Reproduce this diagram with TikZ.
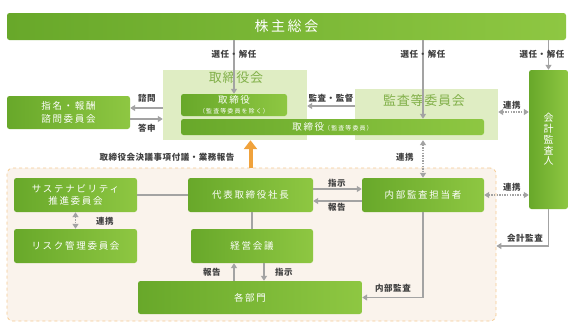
\documentclass[tikz,border=0pt]{standalone}
\usepackage{fontspec}
\setmainfont{Noto Sans CJK JP}
\newfontfamily\boxf[LetterSpace=18]{Noto Sans CJK JP}
\newfontfamily\labf[LetterSpace=6]{Noto Sans CJK JP}
\newfontfamily\titf[LetterSpace=6]{Noto Sans CJK JP}
\usetikzlibrary{arrows.meta}
\definecolor{gL}{HTML}{68A82A}
\definecolor{gR}{HTML}{8EC742}
\definecolor{panel}{HTML}{DFEDC3}
\definecolor{ptext}{HTML}{82B04A}
\definecolor{beige}{HTML}{FAF3EC}
\definecolor{beigeline}{HTML}{F6CB92}
\definecolor{arrgray}{HTML}{A3A3A3}
\definecolor{labtext}{HTML}{404040}
\definecolor{orng}{HTML}{F0A23C}
\begin{document}
\begin{tikzpicture}[x=1pt,y=-1pt,
  gbox/.style={rounded corners=2.5pt, left color=gL, right color=gR, draw=none,
    text=white, font=\boxf\fontsize{9.5}{13}\selectfont, align=center, inner sep=0pt},
  pbox/.style={fill=panel, draw=none, inner sep=0pt},
  ptitle/.style={text=ptext, font=\titf\fontsize{13}{14}\selectfont, inner sep=0pt},
  lab/.style={text=labtext, font=\labf\bfseries\fontsize{8.5}{10}\selectfont, inner sep=0pt},
  arr/.style={draw=arrgray, line width=1.3pt, -{Triangle[length=5pt,width=6pt]}},
  plain/.style={draw=arrgray, line width=1.3pt},
  dotarr/.style={draw=arrgray, line width=1.3pt, dash pattern=on 1.3pt off 1.3pt,
    {Triangle[length=5pt,width=6pt]}-{Triangle[length=5pt,width=6pt]}}
]
\useasboundingbox (0,0) rectangle (579,335);
\fill[white] (0,0) rectangle (579,335);

% background panels
\node[pbox, minimum width=144pt, minimum height=70pt] (torpanel) at (235,105) {};
\node[pbox, minimum width=143pt, minimum height=51pt] (kansapanel) at (426.5,114.5) {};
\node[ptitle] (tortitle) at (236,78) {取締役会};
\node[ptitle] (kansatitle) at (424,101) {監査等委員会};
\node[rounded corners=6pt, fill=beige, draw=beigeline, dashed, line width=0.8pt,
  minimum width=489pt, minimum height=153pt, inner sep=0pt] (beigebox) at (251.5,244.5) {};

% boxes
\node[gbox, minimum width=559pt, minimum height=27pt, font=\boxf\fontsize{14}{16}\selectfont] (kabu) at (286.5,26.5) {株主総会};
\node[gbox, minimum width=106pt, minimum height=22pt, font=\boxf\fontsize{9.5}{9.5}\selectfont] (tor1) at (234,105) {取締役\\{\fontsize{6}{7}\selectfont （監査等委員を除く）}};
\node[gbox, minimum width=303pt, minimum height=16pt] (tor2) at (332.5,127) {取締役{\fontsize{6}{7}\selectfont （監査等委員）}};
\node[gbox, minimum width=123pt, minimum height=33pt, font=\boxf\fontsize{9.5}{12.5}\selectfont] (shimei) at (68.5,112.5) {指名・報酬\\諮問委員会};
\node[gbox, minimum width=39pt, minimum height=139pt, font=\boxf\fontsize{10}{10.8}\selectfont] (kaikei) at (548.5,139.5) {会\\計\\監\\査\\人};
\node[gbox, minimum width=123pt, minimum height=34pt, font=\boxf\fontsize{9.5}{12.5}\selectfont] (sust) at (75.5,195) {サステナビリティ\\推進委員会};
\node[gbox, minimum width=123pt, minimum height=34pt] (risk) at (75.5,246) {リスク管理委員会};
\node[gbox, minimum width=125pt, minimum height=34pt] (daihyo) at (250.5,195) {代表取締役社長};
\node[gbox, minimum width=122pt, minimum height=34pt] (keiei) at (252,246) {経営会議};
\node[gbox, minimum width=224pt, minimum height=33pt] (kakubu) at (250,297.5) {各部門};
\node[gbox, minimum width=122pt, minimum height=34pt] (naibu) at (423,195) {内部監査担当者};

% connectors from 株主総会
\draw[arr] (kabu.south -| tor1.north) -- (tor1.north);
\draw[arr] (kabu.south -| naibu.north) -- (naibu.north |- tor2.north);
\draw[arr] (kabu.south -| kaikei.north) -- (kaikei.north);
\node[lab] (l1) at (234,54) {選任・解任};
\node[lab] (l2) at (423,54) {選任・解任};
\node[lab] (l3) at (542,54) {選任・解任};

% 諮問 / 答申
\draw[arr] (torpanel.west |- 0,108) -- (shimei.east |- 0,108);
\draw[arr] (shimei.east |- 0,119) -- (torpanel.west |- 0,119);
\node[lab] (l4) at (147,98) {諮問};
\node[lab] (l5) at (147,128) {答申};

% 監査・監督
\draw[arr] (kansapanel.west |- 0,106) -- (torpanel.east |- 0,106);
\node[lab] (l6) at (331,98) {監査・監督};

% 連携 kansa - kaikei
\draw[dotarr] (kansapanel.east |- 0,112) -- (kaikei.west |- 0,112);
\node[lab] (l7) at (512,105) {連携};

% orange arrow
\draw[draw=orng, line width=4pt, -{Triangle[length=9pt,width=13pt]}] (daihyo.north |- beigebox.north) -- (daihyo.north |- torpanel.south);
\node[lab] (l8) at (167,157) {取締役会決議事項付議・業務報告};

% 連携 kansa - naibu
\draw[dotarr] (naibu.north |- kansapanel.south) -- (naibu.north);
\node[lab] (l9) at (405,157) {連携};

% sust - risk
\draw[dotarr] (sust.south) -- (risk.north);
\node[lab] (l10) at (105,221) {連携};

% sust - daihyo
\draw[plain] (sust.east) -- (daihyo.west);
% daihyo - keiei
\draw[plain] (daihyo.south -| keiei.north) -- (keiei.north);

% keiei - kakubu
\draw[arr] (kakubu.north -| 234,0) -- (keiei.south -| 234,0);
\draw[arr] (keiei.south -| 264,0) -- (kakubu.north -| 264,0);
\node[lab] (l11) at (212,272) {報告};
\node[lab] (l12) at (284,272) {指示};

% daihyo - naibu
\draw[arr] (daihyo.east |- 0,189) -- (naibu.west |- 0,189);
\draw[arr] (naibu.west |- 0,201) -- (daihyo.east |- 0,201);
\node[lab] (l13) at (337,183) {指示};
\node[lab] (l14) at (337,207) {報告};

% naibu - kaikei
\draw[dotarr] (naibu.east) -- (kaikei.west |- naibu.east);
\node[lab] (l15) at (512,187) {連携};

% 会計監査
\draw[arr] (kaikei.south) -- (kaikei.south |- 0,246) -- (beigebox.east |- 0,246);
\node[lab] (l16) at (525,238) {会計監査};

% 内部監査
\draw[arr] (naibu.south) -- (naibu.south |- kakubu.east) -- (kakubu.east);
\node[lab] (l17) at (393,288) {内部監査};
\end{tikzpicture}
\end{document}
